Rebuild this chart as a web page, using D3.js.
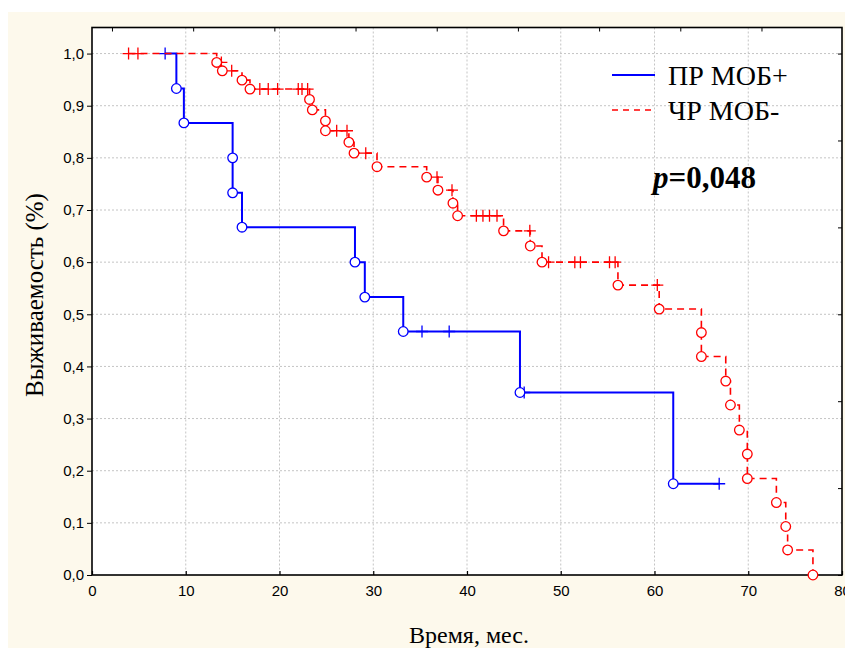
<!DOCTYPE html>
<html>
<head>
<meta charset="utf-8">
<script src="https://cdn.jsdelivr.net/npm/d3@7"></script>
<style>
  body { margin: 0; background: #ffffff; }
  svg { display: block; }
</style>
</head>
<body>
<svg id="chart" width="845" height="650"></svg>
<script>
// Kaplan–Meier survival estimates for two patient groups.
// Each record: [time in months, survival after that time, kind]; kind "d" = event, "c" = censored.
const seriesNames = ["ПР МОБ+", "ЧР МОБ-"];

const prMrdPos = [
  [7.8, 1.0, "c"],
  [9.0, 0.933, "d"],
  [9.8, 0.867, "d"],
  [15.0, 0.8, "d"],
  [15.0, 0.733, "d"],
  [16.0, 0.667, "d"],
  [28.05, 0.6, "d"],
  [29.1, 0.533, "d"],
  [33.2, 0.467, "d"],
  [35.2, 0.467, "c"],
  [38.1, 0.467, "c"],
  [45.65, 0.35, "d"],
  [46.1, 0.35, "c"],
  [62.0, 0.175, "d"],
  [66.9, 0.175, "c"]
];

const prMrdNeg = [
  [3.9, 1.0, "c"],
  [4.9, 1.0, "c"],
  [13.3, 0.983, "d"],
  [13.8, 0.983, "c"],
  [13.9, 0.967, "d"],
  [14.9, 0.967, "c"],
  [16.0, 0.949, "d"],
  [16.85, 0.932, "d"],
  [17.9, 0.932, "c"],
  [18.8, 0.932, "c"],
  [19.8, 0.932, "c"],
  [22.0, 0.932, "c"],
  [22.4, 0.932, "c"],
  [23.0, 0.932, "c"],
  [23.2, 0.912, "d"],
  [23.5, 0.892, "d"],
  [24.9, 0.871, "d"],
  [24.9, 0.852, "d"],
  [26.1, 0.852, "c"],
  [27.2, 0.852, "c"],
  [27.4, 0.83, "d"],
  [27.95, 0.809, "d"],
  [29.2, 0.809, "c"],
  [30.4, 0.783, "d"],
  [35.7, 0.763, "d"],
  [36.8, 0.763, "c"],
  [36.9, 0.738, "d"],
  [38.4, 0.738, "c"],
  [38.5, 0.713, "d"],
  [39.0, 0.689, "d"],
  [41.0, 0.689, "c"],
  [41.7, 0.689, "c"],
  [42.4, 0.689, "c"],
  [43.2, 0.689, "c"],
  [43.9, 0.66, "d"],
  [46.7, 0.66, "c"],
  [46.75, 0.631, "d"],
  [48.0, 0.6, "d"],
  [48.7, 0.6, "c"],
  [51.5, 0.6, "c"],
  [52.1, 0.6, "c"],
  [55.2, 0.6, "c"],
  [55.8, 0.6, "c"],
  [56.1, 0.556, "d"],
  [60.3, 0.556, "c"],
  [60.5, 0.51, "d"],
  [65.0, 0.465, "d"],
  [65.0, 0.419, "d"],
  [67.6, 0.372, "d"],
  [68.1, 0.326, "d"],
  [69.05, 0.278, "d"],
  [69.9, 0.232, "d"],
  [69.9, 0.185, "d"],
  [73.0, 0.139, "d"],
  [74.0, 0.093, "d"],
  [74.2, 0.048, "d"],
  [76.9, 0.0, "d"]
];

const xTicks = [0, 10, 20, 30, 40, 50, 60, 70, 80];
const yTicks = [0, 0.1, 0.2, 0.3, 0.4, 0.5, 0.6, 0.7, 0.8, 0.9, 1.0];
const pValueLabel = "0,048";

const svg = d3.select("#chart");
const W = 845, H = 650;

// page background: white band on top, cream panel behind the plot
svg.append("rect").attr("width", W).attr("height", H).attr("fill", "#ffffff");
svg.append("rect").attr("x", 8).attr("y", 12).attr("width", W - 8).attr("height", H - 14)
  .attr("fill", "#fdf9ec");

const plot = { left: 92, right: 842, top: 27.5, bottom: 575 };

const x = d3.scaleLinear().domain([0, 80]).range([plot.left, plot.right]);
const y = d3.scaleLinear().domain([0, 1.05]).range([plot.bottom, plot.top]);

svg.append("rect")
  .attr("x", plot.left).attr("y", plot.top)
  .attr("width", plot.right - plot.left).attr("height", plot.bottom - plot.top)
  .attr("fill", "#ffffff");

// dotted grid
const grid = svg.append("g").attr("stroke", "#c4c4c4").attr("stroke-width", 1)
  .attr("stroke-dasharray", "2,2").attr("fill", "none");
xTicks.filter(t => t > 0 && t < 80).forEach(t => {
  grid.append("line").attr("x1", x(t)).attr("x2", x(t))
    .attr("y1", plot.top).attr("y2", plot.bottom);
});
yTicks.filter(t => t > 0).forEach(t => {
  grid.append("line").attr("x1", plot.left).attr("x2", plot.right)
    .attr("y1", y(t)).attr("y2", y(t));
});

const fmt = d => d3.format(".1f")(d).replace(".", ",");

// bottom axis: inner ticks, labels below
const xAxis = d3.axisBottom(x).tickValues(xTicks).tickFormat(d3.format("d"))
  .tickSizeInner(-4).tickSizeOuter(0).tickPadding(10);
const gx = svg.append("g").attr("transform", `translate(0,${plot.bottom})`).call(xAxis);
gx.select(".domain").remove();
gx.selectAll("line").attr("stroke", "#000").attr("stroke-width", 1.2);
gx.selectAll("text").attr("font-family", "Liberation Sans, Arial, sans-serif")
  .attr("font-size", 15).attr("fill", "#000");

// left axis: outer ticks
const yAxis = d3.axisLeft(y).tickValues(yTicks).tickFormat(fmt)
  .tickSizeInner(5).tickSizeOuter(0).tickPadding(3);
const gy = svg.append("g").attr("transform", `translate(${plot.left},0)`).call(yAxis);
gy.select(".domain").remove();
gy.selectAll("line").attr("stroke", "#000").attr("stroke-width", 1);
gy.selectAll("text").attr("font-family", "Liberation Sans, Arial, sans-serif")
  .attr("font-size", 15).attr("fill", "#000");

// secondary (unlabelled) axes on top and right
const topTicks = d3.range(9).map(k => 2.13 + k * 8.66);
const gt = svg.append("g").attr("transform", `translate(0,${plot.top})`)
  .call(d3.axisTop(x).tickValues(topTicks).tickSizeInner(-4).tickSizeOuter(0).tickFormat(""));
gt.select(".domain").remove();
gt.selectAll("line").attr("stroke", "#000");
const rightTicks = d3.range(7).map(k => k / 6);
const gr = svg.append("g").attr("transform", `translate(${plot.right},0)`)
  .call(d3.axisRight(y).tickValues(rightTicks).tickSizeInner(-4).tickSizeOuter(0).tickFormat(""));
gr.select(".domain").remove();
gr.selectAll("line").attr("stroke", "#000");

// frame
svg.append("rect")
  .attr("x", plot.left).attr("y", plot.top)
  .attr("width", plot.right - plot.left).attr("height", plot.bottom - plot.top)
  .attr("fill", "none").attr("stroke", "#000").attr("stroke-width", 1.6);

// survival curves
const step = d3.line().x(d => x(d[0])).y(d => y(d[1])).curve(d3.curveStepAfter);

function drawSeries(data, color, width, dash) {
  const g = svg.append("g");
  g.append("path").datum(data)
    .attr("d", step).attr("fill", "none")
    .attr("stroke", color).attr("stroke-width", width)
    .attr("stroke-dasharray", dash);
  // censored observations
  g.selectAll("path.cens").data(data.filter(d => d[2] === "c")).join("path")
    .attr("class", "cens")
    .attr("d", d => `M${x(d[0]) - 6},${y(d[1])}H${x(d[0]) + 6}M${x(d[0])},${y(d[1]) - 6}V${y(d[1]) + 6}`)
    .attr("stroke", color).attr("stroke-width", 1.3).attr("fill", "none");
  // events
  g.selectAll("circle").data(data.filter(d => d[2] === "d")).join("circle")
    .attr("cx", d => x(d[0])).attr("cy", d => y(d[1])).attr("r", 4.8)
    .attr("fill", "#ffffff").attr("stroke", color).attr("stroke-width", 1.3);
}

drawSeries(prMrdPos, "#0000ff", 2, null);
drawSeries(prMrdNeg, "#ff0000", 1.6, "7,5");

// legend
const legend = [
  { name: seriesNames[0], color: "#0000ff", width: 2, dash: null, y: 75 },
  { name: seriesNames[1], color: "#ff0000", width: 1.6, dash: "6,5", y: 110 }
];
legend.forEach(l => {
  svg.append("line").attr("x1", 612).attr("x2", 655).attr("y1", l.y).attr("y2", l.y)
    .attr("stroke", l.color).attr("stroke-width", l.width).attr("stroke-dasharray", l.dash);
  svg.append("text").attr("x", 668).attr("y", l.y + 10)
    .attr("font-family", "Liberation Serif, Times New Roman, serif").attr("font-size", 28)
    .attr("fill", "#000").text(l.name);
});

// p-value
const pt = svg.append("text").attr("x", 653).attr("y", 188)
  .attr("font-family", "Liberation Serif, Times New Roman, serif").attr("font-size", 31)
  .attr("font-weight", "bold").attr("fill", "#000");
pt.append("tspan").attr("font-style", "italic").text("p");
pt.append("tspan").text("=" + pValueLabel);

// axis titles
svg.append("text").attr("x", 469).attr("y", 643).attr("text-anchor", "middle")
  .attr("font-family", "Liberation Serif, Times New Roman, serif").attr("font-size", 24)
  .attr("fill", "#000").text("Время, мес.");

svg.append("text").attr("transform", "translate(43,295) rotate(-90)").attr("text-anchor", "middle")
  .attr("font-family", "Liberation Serif, Times New Roman, serif").attr("font-size", 25)
  .attr("fill", "#000").text("Выживаемость (%)");
</script>
</body>
</html>
